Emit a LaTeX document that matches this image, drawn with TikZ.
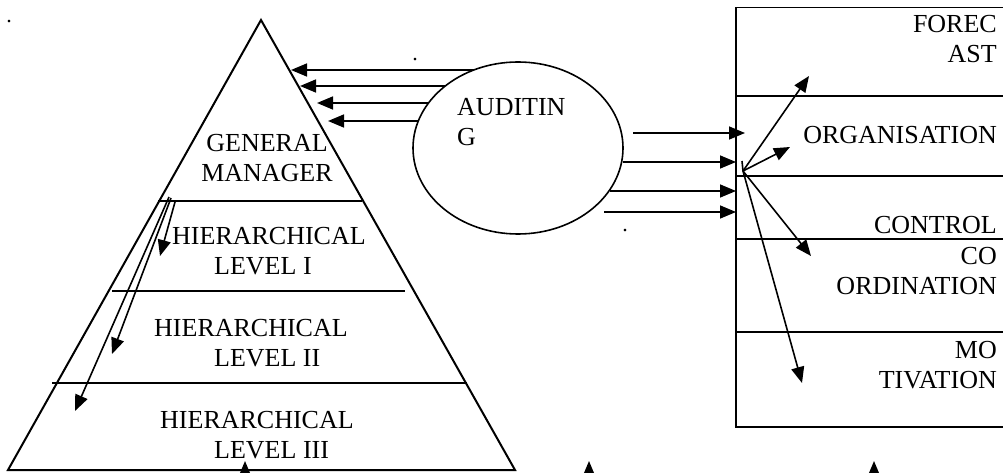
\documentclass[tikz,border=0pt]{standalone}
\usepackage{fontspec}
\setmainfont{Liberation Serif}
\usetikzlibrary{arrows.meta,shapes.geometric}

\tikzset{
  lbl/.style={font=\fontsize{26}{30}\selectfont, inner sep=0pt},
  arr/.style={-{Triangle[length=16pt,width=13pt]}, line width=1.6pt},
  edgeline/.style={line width=2pt},
  boxline/.style={line width=1.5pt},
  dot/.style={font=\fontsize{22}{24}\selectfont, inner sep=0pt}
}

\begin{document}
\begin{tikzpicture}[x=1pt,y=-1pt]
\useasboundingbox (0,0) rectangle (1003,473);

% pyramid
\coordinate (apex) at (261,20);
\coordinate (bl) at (8,470);
\coordinate (br) at (515,470);
\draw[edgeline] (bl) -- (apex) -- (br) -- cycle;
\draw[edgeline] (158,201) -- (362,201);
\draw[edgeline] (112,291) -- (405,291);
\draw[edgeline] (52,383) -- (467,383);

\node[lbl, align=center, anchor=base] (gm) at (267,182) {GENERAL\\MANAGER};
\node[lbl, align=left, anchor=base west] (hl1) at (172,274) {HIERARCHICAL\\\hspace*{42pt}LEVEL I};
\node[lbl, align=left, anchor=base west] (hl2) at (154,366) {HIERARCHICAL\\\hspace*{60pt}LEVEL II};
\node[lbl, align=left, anchor=base west] (hl3) at (160,458) {HIERARCHICAL\\\hspace*{54pt}LEVEL III};

% auditing
\node[draw, ellipse, line width=1.6pt, minimum width=210pt, minimum height=172pt, inner sep=0pt] (audit) at (518,148) {};
\node[lbl, align=left, anchor=base west] (audtxt) at (457,146) {AUDITIN\\G};

% functions box
\node[draw, boxline, minimum width=280pt, minimum height=419pt, anchor=north west, inner sep=0pt] (plan) at (735,7) {};
\draw[boxline] (plan.west |- 0,96) -- (plan.east |- 0,96);
\draw[boxline] (plan.west |- 0,176) -- (plan.east |- 0,176);
\draw[boxline] (plan.west |- 0,239) -- (plan.east |- 0,239);
\draw[boxline] (plan.west |- 0,332) -- (plan.east |- 0,332);

\node[lbl, align=right, anchor=base east] (forecast) at (997,63) {FOREC\\AST};
\node[lbl, align=right, anchor=base east] (organ) at (997,144) {ORGANISATION};
\node[lbl, align=right, anchor=base east] (control) at (997,233) {CONTROL};
\node[lbl, align=right, anchor=base east] (coord) at (997,294) {CO\\ORDINATION};
\node[lbl, align=right, anchor=base east] (motiv) at (997,388) {MO\\TIVATION};

% auditing -> pyramid
\coordinate (g1) at (291,70);
\coordinate (g2) at (300,86);
\coordinate (g3) at (317,103);
\coordinate (g4) at (328,121);
\draw[arr] (g1 -| audit.119.5) -- (g1);
\draw[arr] (g2 -| audit.139.6) -- (g2);
\draw[arr] (g3 -| audit.153.3) -- (g3);
\draw[arr] (g4 -| audit.164.8) -- (g4);

% auditing -> box
\coordinate (r1) at (745,133);
\coordinate (r2) at (736,162);
\coordinate (r3) at (736,191);
\coordinate (r4) at (736,212);
\draw[arr] ([xshift=11pt]r1 -| audit.8.3) -- (r1);
\draw[arr] (r2 -| audit.-7.7) -- (r2);
\draw[arr] (r3 -| audit.-25.3) -- (r3);
\draw[arr] ([xshift=15pt]r4 -| audit.-42.4) -- (r4);

% fan inside box
\coordinate (hub) at (743,171);
\coordinate (tick) at (742,161);
\coordinate (f1) at (809,76);
\coordinate (f2) at (790,147);
\coordinate (f3) at (811,256);
\coordinate (f4) at (802,383);
\draw[line width=1.6pt] (hub) -- (tick);
\draw[arr] (hub) -- (f1);
\draw[arr] (hub) -- (f2);
\draw[arr] (hub) -- (f3);
\draw[arr] (hub) -- (f4);

% down the pyramid
\coordinate (s1) at (169,197);
\coordinate (s2) at (171,198);
\coordinate (s3) at (175,202);
\coordinate (d1) at (75,411);
\coordinate (d2) at (112,354);
\coordinate (d3) at (160,256);
\draw[arr] (s1) -- (d1);
\draw[arr] (s2) -- (d2);
\draw[arr] (s3) -- (d3);

% arrows from below
\coordinate (u1) at (245,495);
\coordinate (u2) at (589,495);
\coordinate (u3) at (874,495);
\coordinate (v1) at (245,461);
\coordinate (v2) at (589,461);
\coordinate (v3) at (874,461);
\draw[arr] (u1) -- (v1);
\draw[arr] (u2) -- (v2);
\draw[arr] (u3) -- (v3);

% stray dots
\node[dot] (dot1) at (9,22) {.};
\node[dot] (dot2) at (415,60) {.};
\node[dot] (dot3) at (625,231) {.};

\end{tikzpicture}
\end{document}
